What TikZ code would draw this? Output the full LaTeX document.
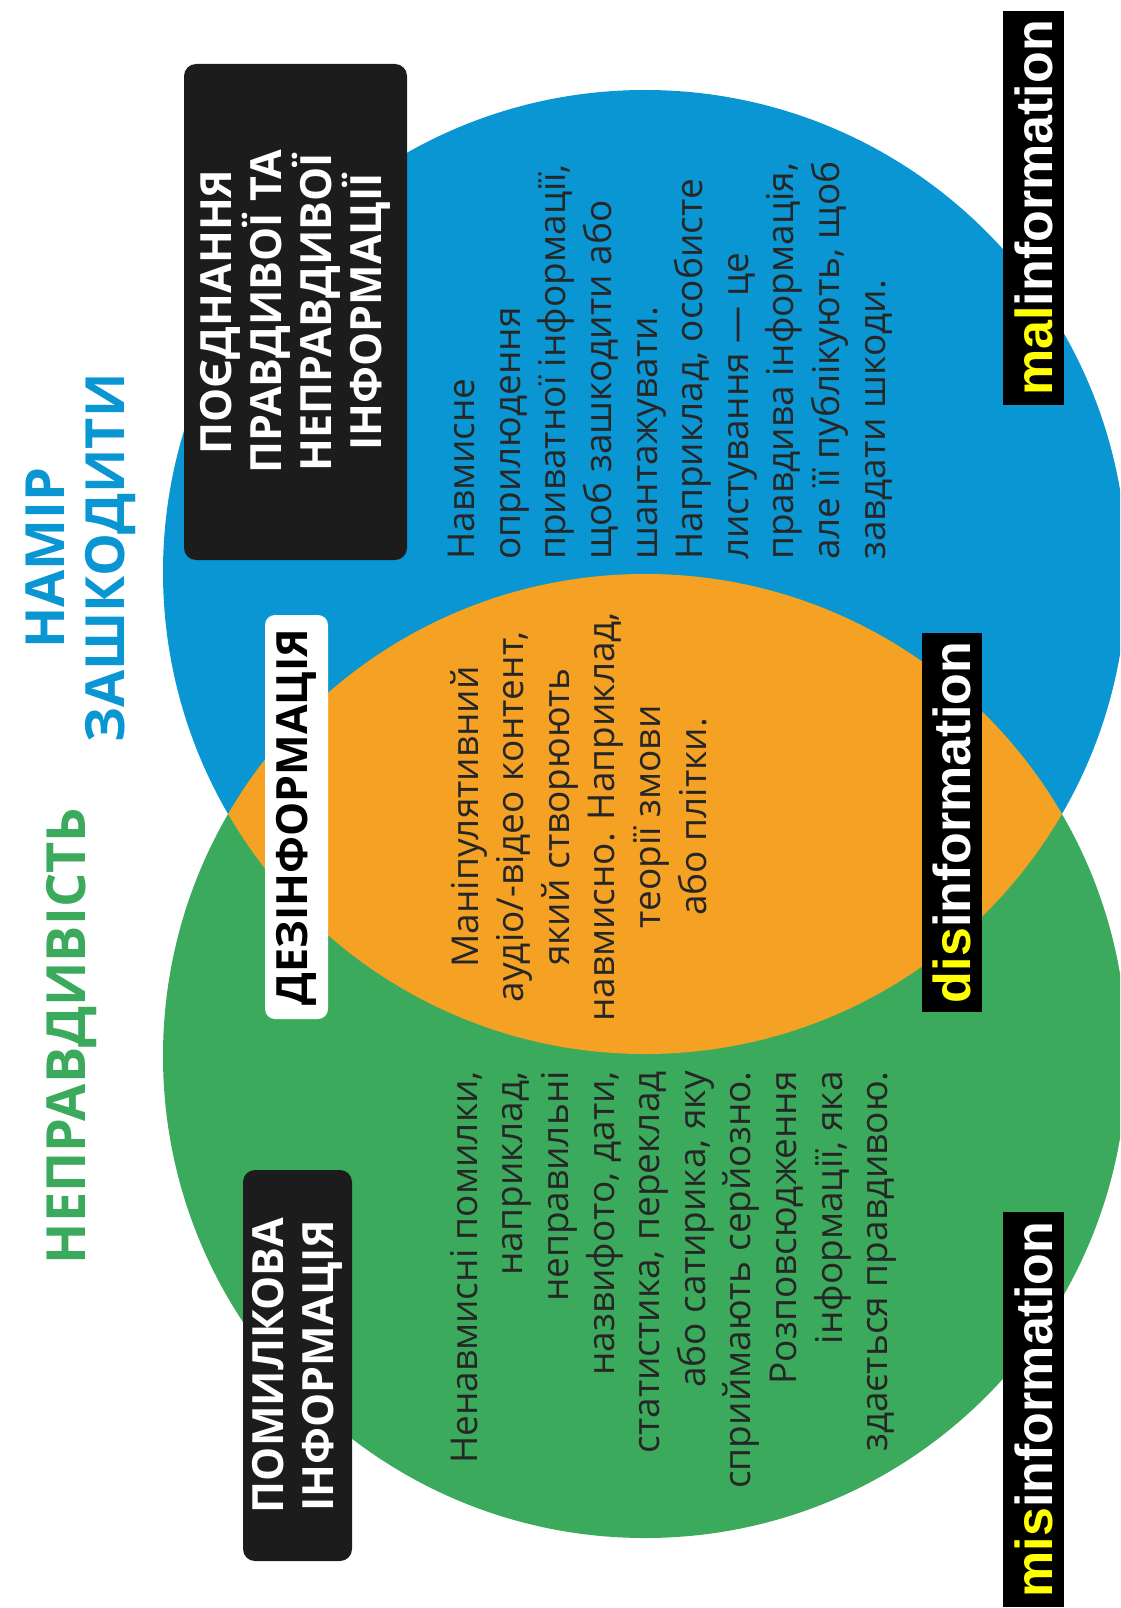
\documentclass[tikz,border=0pt]{standalone}
\usepackage{fontspec}
\setmainfont{Open Sans}
\newfontfamily\labelfont{Liberation Sans}
\definecolor{cblue}{RGB}{10,150,210}
\definecolor{cgreen}{RGB}{60,170,92}
\definecolor{corange}{RGB}{245,161,36}
\definecolor{ctext}{RGB}{38,38,38}
\definecolor{cbox}{RGB}{28,28,28}
\definecolor{cyel}{RGB}{255,255,0}
\begin{document}
\begin{tikzpicture}[x=1pt,y=-1pt,
  body/.style={rotate=90, inner sep=0pt, text=ctext, font=\fontsize{37}{45.6}\selectfont},
  title/.style={rotate=90, inner sep=0pt, anchor=north, align=center, font=\bfseries\fontsize{54}{60}\selectfont},
  darkbox/.style={rotate=90, inner sep=0pt, fill=cbox, text=white, rounded corners=12pt, align=center, font=\bfseries\fontsize{43}{50}\selectfont},
  lightbox/.style={rotate=90, inner sep=0pt, fill=white, text=black, rounded corners=10pt, align=center, font=\bfseries\fontsize{43}{50}\selectfont},
  lbl/.style={rotate=90, inner sep=0pt, fill=black, text=white, font=\labelfont\bfseries\fontsize{52}{52}\selectfont},
]
\useasboundingbox (0,0) rectangle (1120,1608);
\begin{scope}
  \clip (0,0) rectangle (1120,1608);
  \fill[cblue] (645,572) circle[radius=482pt];
  \fill[cgreen] (645,1056) circle[radius=482pt];
  \begin{scope}
    \clip (645,572) circle[radius=482pt];
    \fill[corange] (645,1056) circle[radius=482pt];
  \end{scope}
\end{scope}

% titles
\node[title, text=cblue] (harm) at (26,558) {НАМІР\\ЗАШКОДИТИ};
\node[title, text=cgreen] (falsity) at (46,1036) {НЕПРАВДИВІСТЬ};

% category boxes
\node[darkbox, minimum width=496pt, minimum height=223pt] (malbox) at (295.5,312)
  {ПОЄДНАННЯ\\ПРАВДИВОЇ ТА\\НЕПРАВДИВОЇ\\ІНФОРМАЦІЇ};
\node[lightbox, minimum width=404pt, minimum height=63pt] (disbox) at (296.5,817)
  {ДЕЗІНФОРМАЦІЯ};
\node[darkbox, minimum width=391pt, minimum height=109pt] (misbox) at (297.5,1365.5)
  {ПОМИЛКОВА\\ІНФОРМАЦІЯ};

% descriptions
\node[body, anchor=north west, align=left] (maltext) at (448,560)
  {Навмисне\\оприлюдення\\приватної інформації,\\щоб зашкодити або\\шантажувати.\\Наприклад, особисте\\листування — це\\правдива інформація,\\але її публікують, щоб\\завдати шкоди.};
\node[body, anchor=north, align=center] (distext) at (450,817)
  {Маніпулятивний\\аудіо/-відео контент,\\який створюють\\навмисно. Наприклад,\\теорії змови\\або плітки.};
\node[body, anchor=north east, align=right] (mistext) at (450,1071)
  {Ненавмисні помилки,\\наприклад,\\неправильні\\назвифото, дати,\\статистика, переклад\\або сатирика, яку\\сприймають серйозно.\\Розповсюдження\\інформації, яка\\здається правдивою.};

% english labels
\node[lbl, minimum width=394pt, minimum height=61pt] (mallbl) at (1033.5,208)
  {\textcolor{cyel}{mal}information};
\node[lbl, minimum width=379pt, minimum height=60pt] (dislbl) at (952,822.5)
  {\textcolor{cyel}{dis}information};
\node[lbl, minimum width=395pt, minimum height=61pt] (mislbl) at (1033.5,1409.5)
  {\textcolor{cyel}{mis}information};
\end{tikzpicture}
\end{document}
